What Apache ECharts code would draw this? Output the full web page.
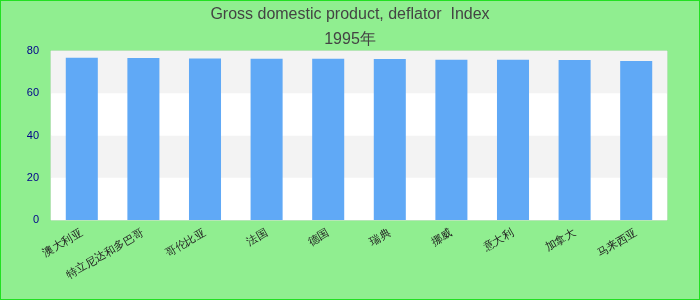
<!DOCTYPE html>
<html><head><meta charset="utf-8">
<script src="https://cdn.jsdelivr.net/npm/echarts@6/dist/echarts.min.js"></script>
<style>html,body{margin:0;padding:0;}#c{width:698px;height:298px;border:1px solid #22e022;background:#90ee90;}</style>
</head><body><div id="c"></div>
<script>
const titleText = 'Gross domestic product, deflator  Index';
const subTitle = '1995年';
const categories = ['澳大利亚','特立尼达和多巴哥','哥伦比亚','法国','德国','瑞典','挪威','意大利','加拿大','马来西亚'];
const values = [76.8, 76.7, 76.4, 76.3, 76.3, 76.2, 75.9, 75.8, 75.7, 75.3];
const yTicks = [0, 20, 40, 60, 80];

const chart = echarts.init(document.getElementById('c'), null, {renderer:'canvas'});
chart.setOption({
  animation:false,
  backgroundColor:'#90ee90',
  title:{text:titleText, subtext:subTitle, left:'center', top:1, itemGap:9,
    textStyle:{fontSize:16,fontWeight:'normal',color:'#444',fontFamily:'Liberation Sans, Arial'},
    subtextStyle:{fontSize:16,color:'#444',fontFamily:'Liberation Sans, Arial'}},
  grid:{left:50,right:32,top:50,bottom:79,show:true,borderColor:'#ddd',borderWidth:1,backgroundColor:'#fff'},
  xAxis:{type:'category',data:categories,
    axisLine:{show:false},axisTick:{show:false},
    axisLabel:{rotate:30,interval:0,color:'#222',fontSize:11,margin:12}},
  yAxis:{type:'value',min:yTicks[0],max:yTicks[yTicks.length-1],interval:20,
    axisLine:{show:false},axisTick:{show:false},splitLine:{show:false},
    splitArea:{show:true,areaStyle:{color:['#ffffff','#f3f3f3']}},
    axisLabel:{color:'#00008b',fontSize:11,margin:12}},
  series:[{type:'bar',data:values,barWidth:'52%',itemStyle:{color:'#60a9f6'}}]
});
</script></body></html>
